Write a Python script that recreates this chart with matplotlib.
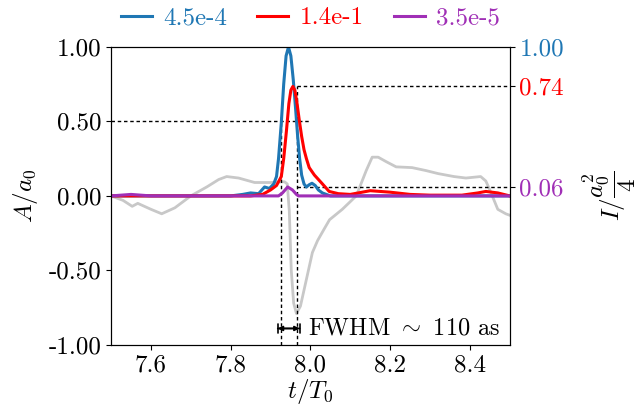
import matplotlib
matplotlib.use("Agg")
import matplotlib.pyplot as plt


# =========================
# DATA
# =========================

# vector potential (grey)
grey_t = [7.50, 7.53, 7.553, 7.567, 7.60, 7.627, 7.66, 7.70, 7.74, 7.77,
          7.79, 7.82, 7.86, 7.90, 7.935, 7.942, 7.947, 7.952, 7.958, 7.965,
          7.975, 7.985, 8.005, 8.018, 8.035, 8.048, 8.08, 8.115, 8.14, 8.155,
          8.17, 8.19, 8.215, 8.255, 8.29, 8.32, 8.36, 8.39, 8.427, 8.44,
          8.45, 8.47, 8.49, 8.50]
grey_A = [0.0, -0.03, -0.07, -0.05, -0.09, -0.12, -0.08, 0.0, 0.06, 0.11,
          0.13, 0.12, 0.09, 0.09, 0.095, 0.08, -0.10, -0.50, -0.72, -0.79,
          -0.74, -0.62, -0.38, -0.30, -0.22, -0.16, -0.09, 0.0, 0.17, 0.26,
          0.26, 0.23, 0.195, 0.19, 0.17, 0.15, 0.13, 0.12, 0.13, 0.10,
          0.04, -0.09, -0.12, -0.13]

# intensities
blue_t = [7.50, 7.80, 7.83, 7.85, 7.87, 7.885, 7.897, 7.908, 7.915, 7.920,
          7.927, 7.933, 7.939, 7.945, 7.951, 7.957, 7.963, 7.968, 7.973, 7.978,
          7.984, 7.99, 7.997, 8.004, 8.012, 8.02, 8.03, 8.05, 8.50]
blue_I = [0.0, 0.0, 0.01, 0.02, 0.015, 0.06, 0.05, 0.08, 0.13, 0.25,
          0.49, 0.75, 0.94, 1.0, 0.94, 0.78, 0.58, 0.40, 0.25, 0.14,
          0.08, 0.06, 0.075, 0.085, 0.07, 0.04, 0.02, 0.0, 0.0]

red_t = [7.50, 7.85, 7.88, 7.90, 7.915, 7.927, 7.933, 7.940, 7.946, 7.951,
         7.956, 7.961, 7.966, 7.972, 7.978, 7.984, 7.99, 7.997, 8.010, 8.027,
         8.047, 8.07, 8.10, 8.15, 8.20, 8.25, 8.30, 8.38, 8.42, 8.44,
         8.47, 8.50]
red_I = [0.0, 0.0, 0.01, 0.04, 0.07, 0.13, 0.25, 0.44, 0.62, 0.71,
         0.735, 0.71, 0.63, 0.51, 0.40, 0.31, 0.25, 0.19, 0.14, 0.09,
         0.03, 0.015, 0.01, 0.035, 0.025, 0.01, 0.005, 0.005, 0.02, 0.03,
         0.02, 0.0]

purple_t = [7.50, 7.55, 7.60, 7.92, 7.93, 7.943, 7.955, 7.965, 7.97, 8.50]
purple_I = [0.0, 0.01, 0.0, 0.0, 0.02, 0.06, 0.04, 0.01, 0.0, 0.0]

labels = ["4.5e-4", "1.4e-1", "3.5e-5"]
colors = ["#1f77b4", "red", "#a02fb6"]

peaks = [1.00, 0.74, 0.06]
peak_labels = ["1.00", "0.74", "0.06"]

yticks = [1.0, 0.5, 0.0, -0.5, -1.0]
yticklabels = ["1.00", "0.50", "0.00", "-0.50", "-1.00"]

fwhm_left = 7.925
fwhm_right = 7.967


# =========================
# STYLE
# =========================

plt.rcParams["font.family"] = "serif"
plt.rcParams["font.serif"] = ["cmr10"]
plt.rcParams["mathtext.fontset"] = "cm"
plt.rcParams["axes.unicode_minus"] = False
plt.rcParams["font.size"] = 18


# =========================
# PLOT
# =========================

fig = plt.figure(figsize=(6.42, 4.12), dpi=100)
ax = fig.add_axes([0.173, 0.163, 0.621, 0.723])

ax.plot(grey_t, grey_A, color="#c8c8c8", lw=2, zorder=1)

lines = []
for t, I, lab, c in zip([blue_t, red_t, purple_t],
                        [blue_I, red_I, purple_I], labels, colors):
    ln, = ax.plot(t, I, color=c, lw=2.2, label=lab, zorder=3)
    lines.append(ln)

dash = (0, (2.5, 2))
ax.plot([7.5, 8.0], [0.5, 0.5], color="k", lw=1, ls=dash, zorder=2)
ax.plot([fwhm_left, fwhm_left], [-1, 0.54], color="k", lw=1, ls=dash, zorder=2)
ax.plot([fwhm_right, fwhm_right], [-1, 0.74], color="k", lw=1, ls=dash, zorder=2)
ax.plot([fwhm_right, 8.5], [0.74, 0.74], color="k", lw=1, ls=dash, zorder=2)
ax.plot([fwhm_right, 8.5], [0.06, 0.06], color="k", lw=1, ls=dash, zorder=2)

# FWHM marker
ax.annotate("", xy=(7.918, -0.89), xytext=(7.973, -0.89),
            arrowprops=dict(arrowstyle="<|-|>", mutation_scale=7,
                            lw=1.2, color="k", shrinkA=0, shrinkB=0))
ax.annotate("", xy=(7.918, -0.89), xytext=(7.973, -0.89),
            arrowprops=dict(arrowstyle="|-|", mutation_scale=3,
                            lw=1.2, color="k", shrinkA=0, shrinkB=0))
ax.text(7.995, -0.89, r"FWHM $\sim$ 110 as", fontsize=17.5, va="center")

ax.set_xlim(7.5, 8.5)
ax.set_ylim(-1, 1)
ax.set_xticks([7.6, 7.8, 8.0, 8.2, 8.4])
ax.set_xticklabels(["7.6", "7.8", "8.0", "8.2", "8.4"])
ax.set_yticks(yticks)
ax.set_yticklabels(yticklabels)
ax.set_xlabel(r"$t/T_0$", fontsize=18, labelpad=0)
ax.set_ylabel(r"$A/a_0$", fontsize=18, labelpad=6)

ax2 = ax.twinx()
ax2.set_ylim(-1, 1)
ax2.set_yticks(peaks)
ax2.set_yticklabels(peak_labels)
for lab, c in zip(ax2.get_yticklabels(), colors):
    lab.set_color(c)
ax2.set_ylabel(r"$I/\dfrac{a_0^2}{4}$", fontsize=18, labelpad=12)

leg = ax.legend(handles=lines, loc="lower center", bbox_to_anchor=(0.5, 1.0),
                ncol=3, frameon=False, handlelength=1.25, handletextpad=0.45,
                columnspacing=1.2, borderaxespad=0.3)
for txt, c in zip(leg.get_texts(), colors):
    txt.set_color(c)

plt.savefig("out.png", dpi=100)
